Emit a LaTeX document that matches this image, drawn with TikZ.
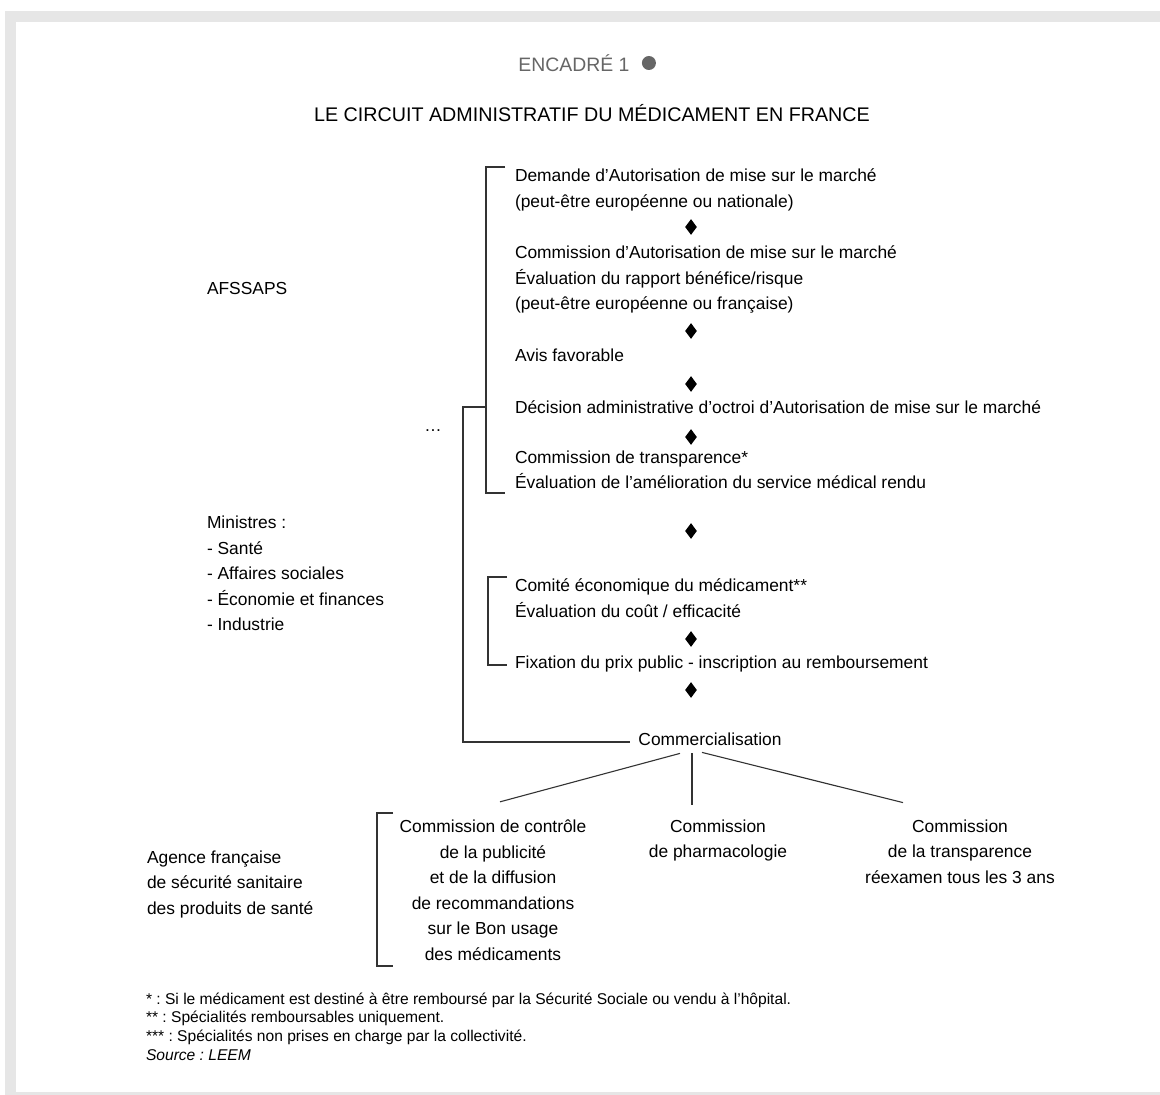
\documentclass[tikz,border=0pt]{standalone}
\usepackage{fontspec}
\setmainfont{Liberation Sans}
\usetikzlibrary{positioning,calc,shapes.geometric}
\definecolor{cadre}{HTML}{E6E6E6}
\definecolor{grisfonce}{HTML}{666666}
\frenchspacing
\newcommand{\corps}{\fontsize{8.7}{12.75}\selectfont}
\newcommand{\renvoi}{\fontsize{7.8}{9.35}\selectfont}
\tikzset{
  txt/.style={inner sep=0pt, outer sep=0pt, font=\corps},
  gauche/.style={txt, align=left, anchor=west},
  centre/.style={txt, align=center},
  losange/.style={diamond, fill=black, inner sep=0pt, minimum width=6pt, minimum height=8pt},
  trait/.style={draw=black!80, line width=0.55pt},
}

\begin{document}
\begin{tikzpicture}[x=0.5pt, y=-0.5pt]
            \useasboundingbox (0,0) rectangle (1160,1095);
            \fill[white] (0,0) rectangle (1160,1095);
            \fill[cadre] (5,11) rectangle (1160,22);
            \fill[cadre] (5,11) rectangle (16,1095);
            \fill[cadre] (5,1092) rectangle (1160,1095);

            \node[txt, font=\fontsize{9.7}{12}\selectfont, text=grisfonce] (encadre) at (574,63) {ENCADRÉ 1};
            \node[circle, fill=grisfonce, inner sep=0pt, minimum size=7pt, right=6pt of encadre] (puce) {};
            \node[txt, font=\fontsize{9.85}{12}\selectfont] (titre) at (592,113) {LE CIRCUIT ADMINISTRATIF DU MÉDICAMENT EN FRANCE};

            \node[gauche] (dem) at (515,190) {Demande d’Autorisation de mise sur le marché\\(peut-être européenne ou nationale)};
            \node[gauche] (camm) at (515,279.5) {Commission d’Autorisation de mise sur le marché\\Évaluation du rapport bénéfice/risque\\(peut-être européenne ou française)};
            \node[gauche] (avis) at (515,355) {Avis favorable};
            \node[gauche] (dec) at (515,407) {Décision administrative d’octroi d’Autorisation de mise sur le marché};
            \node[gauche] (ct) at (515,470) {Commission de transparence*\\Évaluation de l’amélioration du service médical rendu};
            \node[gauche] (cem) at (515,598) {Comité économique du médicament**\\Évaluation du coût / efficacité};
            \node[gauche] (fix) at (515,663.5) {Fixation du prix public - inscription au remboursement};
            \node[txt] (com) at (710,739) {Commercialisation};

            \node[losange] (d1) at (691,227) {};
            \node[losange] (d2) at (691,331) {};
            \node[losange] (d3) at (691,384) {};
            \node[losange] (d4) at (691,437) {};
            \node[losange] (d5) at (691,531) {};
            \node[losange] (d6) at (691,639) {};
            \node[losange] (d7) at (691,690) {};

            \node[gauche] (afssaps) at (207,289) {AFSSAPS};
            \node[txt] (suite) at (433,431) {…};
            \node[gauche] (ministres) at (207,573.5) {Ministres :\\- Santé\\- Affaires sociales\\- Économie et finances\\- Industrie};
            \node[gauche] (agence) at (147,884) {Agence française\\de sécurité sanitaire\\des produits de santé};

            \node[centre] (ccp) at (493,890) {Commission de contrôle\\de la publicité\\et de la diffusion\\de recommandations\\sur le Bon usage\\des médicaments};
            \node[centre] (cph) at (718,840.5) {Commission\\de pharmacologie};
            \node[centre] (ctr) at (960,851.5) {Commission\\de la transparence\\réexamen tous les 3 ans};

            \node[txt, font=\renvoi, align=left, anchor=west] (renvois) at (146,1026.5) {* : Si le médicament est destiné à être remboursé par la Sécurité Sociale ou vendu à l’hôpital.\\** : Spécialités remboursables uniquement.\\*** : Spécialités non prises en charge par la collectivité.\\\textit{Source : LEEM}};

            \coordinate (b1h) at (486,167);
            \coordinate (b1b) at (486,493);
            \coordinate (b2h) at (488,577);
            \coordinate (b2b) at (488,665);
            \coordinate (b3h) at (377,813);
            \coordinate (b3b) at (377,966);

            \draw[trait] ($(b1h)+(19,0)$) -- (b1h) -- (b1b) -- ++(19,0);
            \draw[trait] ($(b2h)+(19,0)$) -- (b2h) -- (b2b) -- ++(19,0);
            \draw[trait] ($(b3h)+(16,0)$) -- (b3h) -- (b3b) -- ++(16,0);
            \draw[trait] (b1b |- dec.west) -- ++(-23,0) |- ($(com.west)+(-8,3)$);

            \draw[trait] ($(com.south)+(-30,8)$) -- ($(ccp.north)+(7,-18)$);
            \draw[trait] ($(com.south)+(-18,8)$) -- ($(cph.north)+(-26,-15)$);
            \draw[trait] ($(com.south)+(-8,7)$) -- ($(ctr.north)+(-57,-17)$);
\end{tikzpicture}
\end{document}
